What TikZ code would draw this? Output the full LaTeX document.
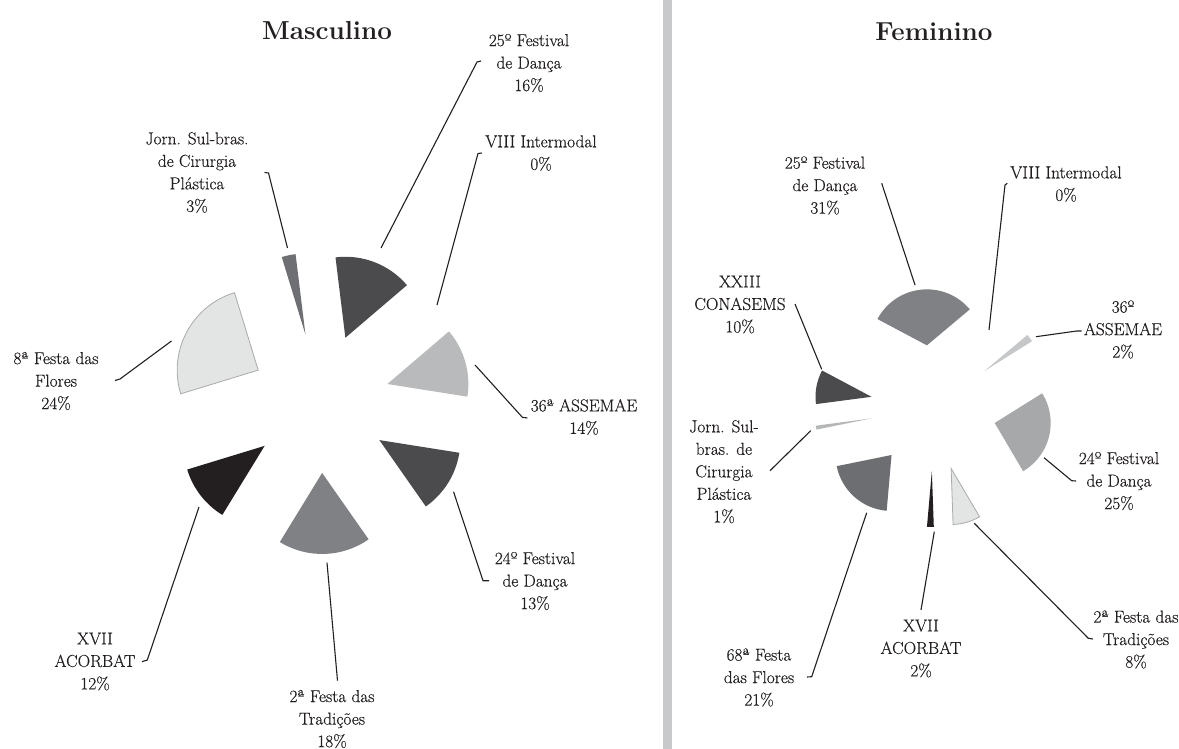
\documentclass[tikz,border=0pt]{standalone}
\usepackage{fontspec}
\newfontfamily\lblfont{Latin Modern Roman}[FakeBold=0.4]
\definecolor{ink}{HTML}{231F20}
\definecolor{divider}{HTML}{C8C9CB}
\definecolor{sA}{HTML}{4B4B4E}
\definecolor{sB}{HTML}{6E6F72}
\definecolor{sC}{HTML}{B9BABC}
\definecolor{sD}{HTML}{808184}
\definecolor{sE}{HTML}{E3E4E4}
\definecolor{sEb}{HTML}{A9AAAC}
\definecolor{sF}{HTML}{C6C7C9}
\definecolor{sG}{HTML}{A7A8AA}
\definecolor{sH}{HTML}{6D6E71}
\definecolor{sI}{HTML}{B5B6B8}
\newcommand\pslice[6]{%
  \pgfmathsetmacro\bis{(#2+#3)/2}%
  \path[#6] (#1) ++(\bis:#4) -- ++(#2:#5) arc[start angle=#2, end angle=#3, radius=#5] -- cycle;}
\begin{document}
\begin{tikzpicture}[x=1pt,y=1pt,
  lbl/.style={font=\lblfont\fontsize{17.3}{22.5}\selectfont, text=ink, align=center, inner sep=0pt},
  ttl/.style={font=\fontsize{26}{30}\selectfont\bfseries, text=ink, inner sep=0pt},
  lead/.style={draw=ink, line width=1.1pt}]
\fill[white] (0,0) rectangle (1179,-749);
\useasboundingbox (0,0) rectangle (1179,-749);
\fill[divider] (663,0) rectangle (672,-749);

% ---------- Masculino ----------
\coordinate (M) at (320,-403);
\node[ttl] (mT) at (327,-31) {Masculino};
\pslice{M}{97}{40.5}{70}{81}{fill=sA}
\pslice{M}{40.5}{-9}{70}{81}{fill=sC}
\pslice{M}{-9}{-55}{70}{81}{fill=sA}
\pslice{M}{-55}{-121.5}{70}{81}{fill=sD}
\pslice{M}{-121.5}{-163}{70}{81}{fill=ink}
\pslice{M}{197}{107}{70}{81}{fill=sE, draw=sEb, line width=0.8pt}
\pslice{M}{107}{97}{70}{81}{fill=sB}

\node[lbl] (m25) at (529,-63) {25º Festival\\de Dança\\16\%};
\node[lbl] (m0) at (541,-153) {VIII Intermodal\\0\%};
\node[lbl] (mJ) at (197,-172.5) {Jorn. Sul-bras.\\de Cirurgia\\Plástica\\3\%};
\node[lbl] (m8) at (56,-381) {8ª Festa das\\Flores\\24\%};
\node[lbl] (m36) at (584,-417) {36ª ASSEMAE\\14\%};
\node[lbl] (m24) at (535,-581) {24º Festival\\de Dança\\13\%};
\node[lbl] (m2) at (332,-719) {2ª Festa das\\Tradições\\18\%};
\node[lbl] (m17) at (95,-661.5) {XVII\\ACORBAT\\12\%};

\coordinate (m25a) at (481,-61);  \coordinate (m25b) at (477,-62);  \coordinate (m25c) at (381,-248);
\coordinate (m0a) at (482,-153);  \coordinate (m0b) at (478,-153.5); \coordinate (m0c) at (437,-305);
\coordinate (mJa) at (264.5,-172.5); \coordinate (mJb) at (268.5,-173); \coordinate (mJc) at (287.5,-248);
\coordinate (m8a) at (115,-380.5); \coordinate (m8b) at (120,-379); \coordinate (m8c) at (171.5,-341);
\coordinate (m36a) at (475,-365); \coordinate (m36b) at (522.4,-417.3); \coordinate (m36c) at (527.4,-418);
\coordinate (m24a) at (453.5,-491.7); \coordinate (m24b) at (483,-580.7); \coordinate (m24c) at (489,-580.7);
\coordinate (m2a) at (327,-562.7); \coordinate (m2b) at (337.5,-680.7);
\coordinate (m17a) at (199,-507); \coordinate (m17b) at (147.3,-660); \coordinate (m17c) at (142,-661.7);

\draw[lead] (m25a) -- (m25b) -- (m25c);
\draw[lead] (m0a) -- (m0b) -- (m0c);
\draw[lead] (mJa) -- (mJb) -- (mJc);
\draw[lead] (m8a) -- (m8b) -- (m8c);
\draw[lead] (m36a) -- (m36b) -- (m36c);
\draw[lead] (m24a) -- (m24b) -- (m24c);
\draw[lead] (m2a) -- (m2b);
\draw[lead] (m17a) -- (m17b) -- (m17c);

% ---------- Feminino ----------
\coordinate (F) at (933.5,-408);
\node[ttl] (fT) at (934,-32) {Feminino};
\pslice{F}{152}{40}{63}{56}{fill=sD}
\pslice{F}{40}{32}{63}{56}{fill=sF}
\pslice{F}{32}{-59.5}{63}{56}{fill=sG}
\pslice{F}{-59.5}{-88}{63}{56}{fill=sE, draw=sEb, line width=0.8pt}
\pslice{F}{-88}{-95}{63}{56}{fill=ink}
\pslice{F}{-95}{-168.5}{63}{56}{fill=sH}
\pslice{F}{-168.5}{-172.5}{63}{56}{fill=sI}
\pslice{F}{-172.5}{-208}{63}{56}{fill=sA}

\node[lbl] (f25) at (825,-185.5) {25º Festival\\de Dança\\31\%};
\node[lbl] (f0) at (1066,-184) {VIII Intermodal\\0\%};
\node[lbl] (f23) at (740,-304.5) {XXIII\\CONASEMS\\10\%};
\node[lbl] (f36) at (1123,-329.5) {36º\\ASSEMAE\\2\%};
\node[lbl] (fJ) at (724,-471.7) {Jorn. Sul-\\bras. de\\Cirurgia\\Plástica\\1\%};
\node[lbl] (f24) at (1119,-481) {24º Festival\\de Dança\\25\%};
\node[lbl] (f2) at (1136,-639.5) {2ª Festa das\\Tradições\\8\%};
\node[lbl] (f17) at (921,-648.5) {XVII\\ACORBAT\\2\%};
\node[lbl] (f68) at (759,-677.5) {68ª Festa\\das Flores\\21\%};

\coordinate (f25a) at (881.7,-183.3); \coordinate (f25b) at (915,-285);
\coordinate (f0a) at (1007.3,-183.3); \coordinate (f0b) at (1005,-185); \coordinate (f0c) at (989,-330);
\coordinate (f23a) at (795,-304); \coordinate (f23b) at (821.7,-369.3);
\coordinate (f36a) at (1036,-336.7); \coordinate (f36b) at (1076.7,-331); \coordinate (f36c) at (1081.7,-331);
\coordinate (f24a) at (1044,-457.7); \coordinate (f24b) at (1071.7,-480.7); \coordinate (f24c) at (1076,-481);
\coordinate (f2a) at (974.3,-523.3); \coordinate (f2b) at (1088.3,-638.3); \coordinate (f2c) at (1093,-639);
\coordinate (f17a) at (934.3,-531.7); \coordinate (f17b) at (921,-610);
\coordinate (f68a) at (866.7,-512.7); \coordinate (f68b) at (811.7,-676.7); \coordinate (f68c) at (807,-677);
\coordinate (fJa) at (770,-470.7); \coordinate (fJb) at (810.7,-430.7);

\draw[lead] (f25a) -- (f25b);
\draw[lead] (f0a) -- (f0b) -- (f0c);
\draw[lead] (f23a) -- (f23b);
\draw[lead] (f36a) -- (f36b) -- (f36c);
\draw[lead] (f24a) -- (f24b) -- (f24c);
\draw[lead] (f2a) -- (f2b) -- (f2c);
\draw[lead] (f17a) -- (f17b);
\draw[lead] (f68a) -- (f68b) -- (f68c);
\draw[lead] (fJa) -- (fJb);
\end{tikzpicture}
\end{document}
